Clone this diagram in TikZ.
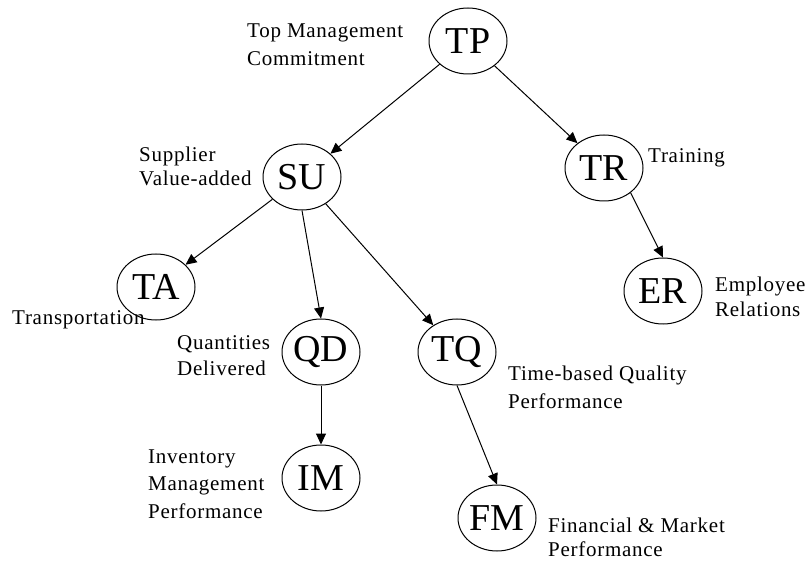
\documentclass[tikz,border=0pt]{standalone}
\usepackage{fontspec}
\setmainfont{Liberation Serif}
\newfontfamily\labelfont{Liberation Serif}[LetterSpace=3.5]
\usetikzlibrary{shapes.geometric,arrows.meta}
\begin{document}
\begin{tikzpicture}[x=1pt,y=1pt,
  factor/.style={ellipse,draw,line width=1pt,minimum width=78pt,minimum height=66pt,
    inner sep=0pt,font=\fontsize{38}{38}\selectfont},
  lbl/.style={anchor=base west,inner sep=0pt,align=left,font=\labelfont\fontsize{21}{26}\selectfont},
  link/.style={line width=1pt,-{Triangle[length=11pt,width=10pt]}}]
\useasboundingbox[fill=white] (0,0) rectangle (806,563);

% constructs
\node[factor] (TP) at (468,522) {TP};
\node[factor] (SU) at (302,386) {SU};
\node[factor] (TR) at (604,395) {TR};
\node[factor] (TA) at (156,276) {TA};
\node[factor] (ER) at (663,272) {ER};
\node[factor] (QD) at (321,211) {QD};
\node[factor] (TQ) at (457,211) {TQ};
\node[factor] (IM) at (321,85) {IM};
\node[factor] (FM) at (497,45) {FM};

% construct descriptions (multi-line nodes sit on the baseline of their last line)
\node[lbl,font=\labelfont\fontsize{21}{28}\selectfont] (lTP) at (247,497) {Top Management\\Commitment};
\node[lbl,font=\labelfont\fontsize{21}{24.5}\selectfont] (lSU) at (139,377) {Supplier\\Value-added};
\node[lbl] (lTR) at (648,400) {Training};
\node[lbl] (lTA) at (12,238) {Transportation};
\node[lbl,font=\labelfont\fontsize{21}{24.5}\selectfont] (lER) at (715,247) {Employee\\Relations};
\node[lbl,font=\labelfont\fontsize{21}{25.5}\selectfont] (lQD) at (177,188) {Quantities\\Delivered};
\node[lbl,font=\labelfont\fontsize{21}{28}\selectfont] (lTQ) at (508,155) {Time-based Quality\\Performance};
\node[lbl,font=\labelfont\fontsize{21}{27.5}\selectfont] (lIM) at (148,45) {Inventory\\Management\\Performance};
\node[lbl,font=\labelfont\fontsize{21}{24}\selectfont] (lFM) at (548,6.5) {Financial \& Market\\Performance};

% causal paths
\draw[link] (TP) -- (SU);
\draw[link] (TP) -- (TR);
\draw[link] (SU) -- (TA);
\draw[link] (SU.south) -- (QD.north);
\draw[link] (SU) -- (TQ);
\draw[link] (TR.-43) -- (ER.north);
\draw[link] (QD.south) -- (IM.north);
\draw[link] (TQ.south) -- (FM.north);
\end{tikzpicture}
\end{document}
